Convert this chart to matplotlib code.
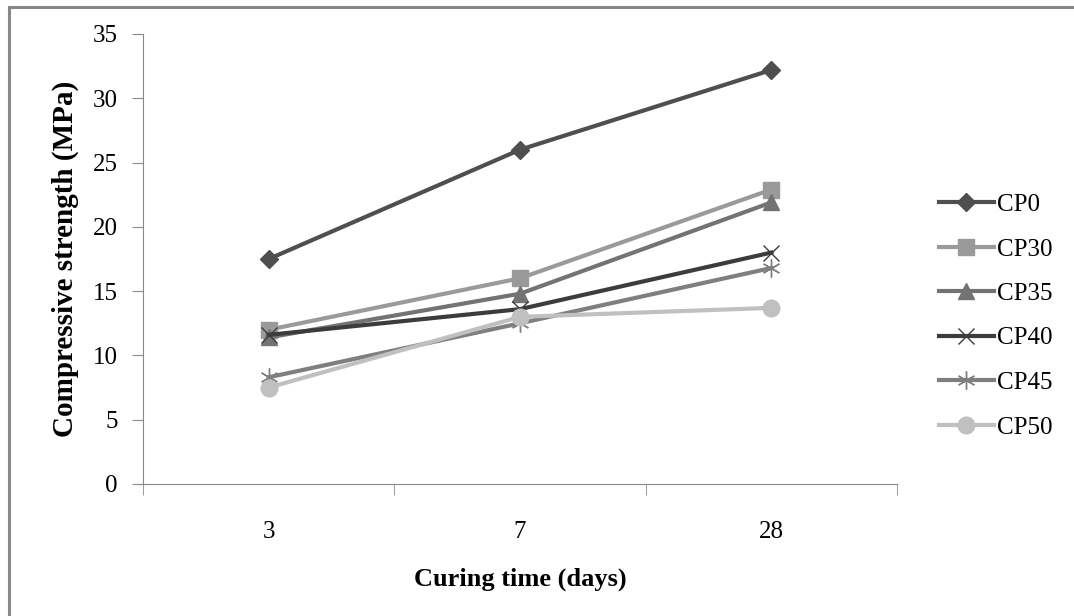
import matplotlib
matplotlib.use("Agg")
from matplotlib import pyplot as plt
from matplotlib.lines import Line2D

plt.rcParams['font.family'] = ['Liberation Serif', 'DejaVu Serif']

days = ['3', '7', '28']
series = ['CP0', 'CP30', 'CP35', 'CP40', 'CP45', 'CP50']
cp0 = [17.5, 26.0, 32.2]
cp30 = [12.0, 16.0, 22.9]
cp35 = [11.4, 14.8, 21.9]
cp40 = [11.6, 13.6, 18.0]
cp45 = [8.3, 12.5, 16.8]
cp50 = [7.5, 13.0, 13.7]

values = [cp0, cp30, cp35, cp40, cp45, cp50]
colors = ['#4f4f4f', '#9a9a9a', '#737373', '#3c3c3c', '#7f7f7f', '#c0c0c0']
markers = ['D', 's', '^', 'x', (6, 2, 0), 'o']
msizes = [9, 12, 11, 12, 13, 12]

fig = plt.figure(figsize=(10.74, 6.16))
fig.set_dpi(100)
ax = fig.add_axes([143 / 1074, 1 - 484 / 616, (897 - 143) / 1074, 450 / 616])

for name, vals, c, m, ms in zip(series, values, colors, markers, msizes):
    ax.plot(range(len(days)), vals, color=c, lw=3, marker=m, ms=ms,
            mec=c, mfc=c, mew=1.0, label=name)

ax.set_xlim(-0.5, 2.5)
ax.set_ylim(0, 35)
ax.set_yticks(range(0, 36, 5))
ax.set_xticks(range(len(days)))
ax.set_xticklabels(days)
ax.set_xticks([-0.5, 0.5, 1.5, 2.5], minor=True)
ax.tick_params(axis='x', which='major', length=0, pad=27, labelsize=18)
ax.tick_params(axis='x', which='minor', length=8, color='#888888', direction='out')
ax.tick_params(axis='y', length=8, color='#888888', pad=10, labelsize=18)
for s in ['top', 'right']:
    ax.spines[s].set_visible(False)
for s in ['left', 'bottom']:
    ax.spines[s].set_color('#888888')

ax.set_ylabel('Compressive strength (MPa)', fontsize=21, fontweight='bold', labelpad=10)
ax.set_xlabel('Curing time (days)', fontsize=19, fontweight='bold', labelpad=17)

ax.legend(loc='upper left', bbox_to_anchor=(916 / 1074, 1 - 171 / 616),
          bbox_transform=fig.transFigure, frameon=False, fontsize=18,
          handlelength=2.2, handletextpad=0.15, labelspacing=0.88)

fig.add_artist(Line2D([8.5 / 1074, 8.5 / 1074], [0, 1 - 6.5 / 616],
                      transform=fig.transFigure, color='#888888', lw=2.2))
fig.add_artist(Line2D([8.5 / 1074, 1.0], [1 - 6.5 / 616, 1 - 6.5 / 616],
                      transform=fig.transFigure, color='#888888', lw=2.2))

fig.savefig('out.png', dpi=100)
